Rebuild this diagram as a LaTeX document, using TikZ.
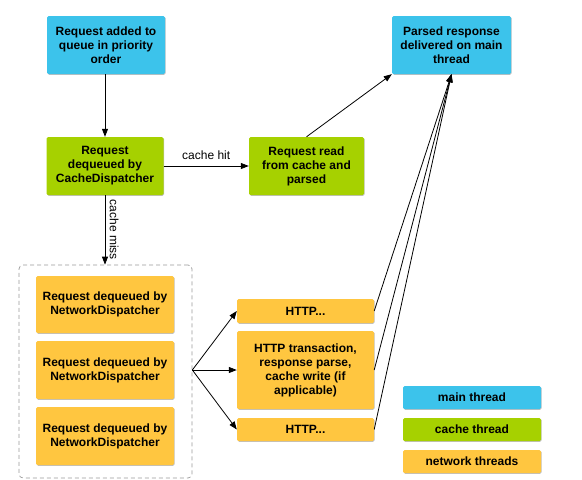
\documentclass[tikz,border=0pt]{standalone}
\usepackage{fontspec}
\setmainfont{Liberation Sans}
\usetikzlibrary{arrows.meta,shadows}
\definecolor{mainblue}{HTML}{3CC3EB}
\definecolor{cachegreen}{HTML}{A6D100}
\definecolor{netorange}{HTML}{FFC640}
\tikzset{
  box/.style={rounded corners=1.5pt, align=center, inner sep=2pt,
    font=\fontsize{12}{14}\selectfont\bfseries,
    drop shadow={shadow xshift=0.6pt, shadow yshift=-0.8pt, opacity=0.25, fill=black}},
  bluebox/.style={box, fill=mainblue},
  greenbox/.style={box, fill=cachegreen},
  orangebox/.style={box, fill=netorange},
  conn/.style={draw=black, line width=0.8pt},
  arr/.style={conn, -{Triangle[length=8pt,width=6pt]}},
  lbl/.style={font=\fontsize{12}{14}\selectfont}
}
\begin{document}
\begin{tikzpicture}[x=1pt,y=-1pt]
\useasboundingbox (0,0) rectangle (582,480);
% container
\node[draw=gray!80, dashed, dash pattern=on 4pt off 3pt, rounded corners=4pt, line width=0.7pt,
      minimum width=173pt, minimum height=213pt, inner sep=0pt] (cont) at (105.5,371.5) {};
% boxes
\node[bluebox, minimum width=118pt, minimum height=58pt] (b1) at (106,45) {Request added to\\queue in priority\\order};
\node[greenbox, minimum width=117pt, minimum height=58pt] (b2) at (105,166) {Request\\dequeued by\\CacheDispatcher};
\node[greenbox, minimum width=115pt, minimum height=58pt] (b3) at (306.5,166) {Request read\\from cache and\\parsed};
\node[bluebox, minimum width=119pt, minimum height=58pt] (b4) at (451.5,45) {Parsed response\\delivered on main\\thread};
\node[orangebox, minimum width=138pt, minimum height=57pt] (n1) at (105,304.5) {Request dequeued by\\NetworkDispatcher};
\node[orangebox, minimum width=138pt, minimum height=58pt] (n2) at (105,370) {Request dequeued by\\NetworkDispatcher};
\node[orangebox, minimum width=138pt, minimum height=58pt] (n3) at (105,436) {Request dequeued by\\NetworkDispatcher};
\node[orangebox, minimum width=137pt, minimum height=24pt] (h1) at (305.5,311) {HTTP...};
\node[orangebox, minimum width=137pt, minimum height=78pt] (h2) at (305.5,370) {HTTP transaction,\\response parse,\\cache write (if\\applicable)};
\node[orangebox, minimum width=137pt, minimum height=23pt] (h3) at (305.5,429.5) {HTTP...};
% legend
\node[bluebox, minimum width=138pt, minimum height=23pt] (l1) at (472,397.5) {main thread};
\node[greenbox, minimum width=138pt, minimum height=23pt] (l2) at (472,429.5) {cache thread};
\node[orangebox, minimum width=138pt, minimum height=23pt] (l3) at (472,461.5) {network threads};
% connectors
\draw[arr] (b1.south -| b2.north) -- (b2.north);
\draw[arr] (b2.east) -- node[lbl, above=3pt] {cache hit} (b3.west);
\draw[arr] (b2.south) -- node[lbl, right=1pt, rotate=-90, anchor=south] {cache miss} (b2.south |- cont.north);
\draw[arr] (b3.north) -- (b4.south west);
\coordinate (fan) at (cont.east |- n2.east);
\draw[arr] (fan) -- (h1.west);
\draw[arr] (fan) -- (h2.west);
\draw[arr] (fan) -- (h3.west);
\draw[arr] (h1.east) -- (b4.south);
\draw[arr] (h2.east) -- (b4.south);
\draw[arr] (h3.east) -- (b4.south);
\end{tikzpicture}
\end{document}
